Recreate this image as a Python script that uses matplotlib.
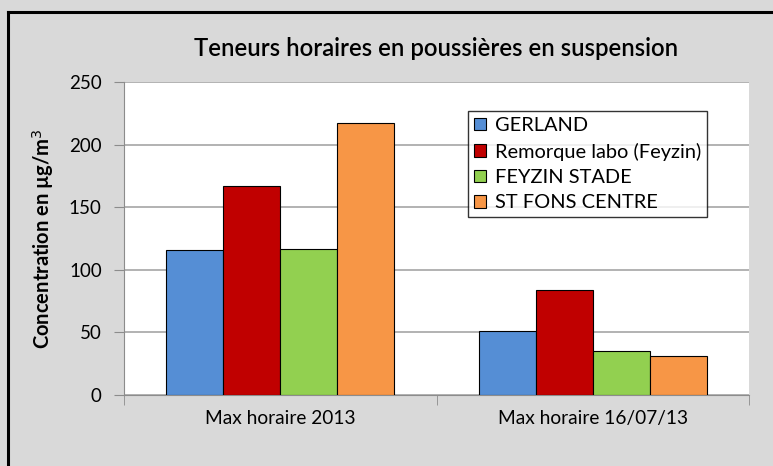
import numpy as np
import matplotlib.pyplot as plt
from matplotlib.lines import Line2D

categories = ['Max horaire 2013', 'Max horaire 16/07/13']
stations = ['GERLAND', 'Remorque labo (Feyzin)', 'FEYZIN STADE', 'ST FONS CENTRE']
values = {
    'GERLAND': [116, 51],
    'Remorque labo (Feyzin)': [167, 84],
    'FEYZIN STADE': [117, 35],
    'ST FONS CENTRE': [217, 31],
}
colors = ['#558ED5', '#C00000', '#92D050', '#F79646']
yticks = [0, 50, 100, 150, 200, 250]

plt.rcParams['font.family'] = ['Lato', 'DejaVu Sans']

fig = plt.figure(figsize=(7.73, 4.66), dpi=100, facecolor='#d9d9d9')
ax = fig.add_axes([124 / 773, 71 / 466, 625 / 773, 313 / 466])
ax.set_facecolor('white')

x = np.arange(len(categories))
w = 0.1824
for i, (name, c) in enumerate(zip(stations, colors)):
    ax.bar(x + (i - 1.5) * w, values[name], w, color=c, edgecolor='black',
           linewidth=0.8, label=name, zorder=3)

ax.set_xlim(-0.5, 1.5)
ax.set_ylim(0, 250)
ax.set_yticks(yticks)
ax.set_yticklabels([str(v) for v in yticks], fontsize=13.5)
ax.yaxis.grid(True, color='#a6a6a6', linewidth=1.2, zorder=0)

ax.set_xticks(x)
ax.set_xticklabels(categories, fontsize=13.8)
ax.tick_params(axis='x', length=0, pad=11)
ax.set_xticks([-0.5, 0.5, 1.5], minor=True)
ax.tick_params(axis='x', which='minor', length=7, color='#8c8c8c', direction='out')
ax.tick_params(axis='y', length=7, color='#8c8c8c', pad=9)

for s in ['top', 'right']:
    ax.spines[s].set_visible(False)
for s in ['left', 'bottom']:
    ax.spines[s].set_color('#8c8c8c')

ax.set_ylabel('Concentration en µg/m$^3$', fontsize=14.5, fontweight='bold', labelpad=9)
ax.set_title('Teneurs horaires en poussières en suspension', fontsize=17.2,
             fontweight='semibold', pad=19)

leg = ax.legend(loc='upper left', bbox_to_anchor=(0.5504, 0.907), fontsize=14.4,
                frameon=True, fancybox=False, edgecolor='black', handlelength=0.6,
                handleheight=0.6, handletextpad=0.45, borderpad=0.3, labelspacing=0.42,
                borderaxespad=0)
leg.get_frame().set_linewidth(1.0)

# outer chart border (top and left visible)
fig.add_artist(Line2D([8 / 773, 8 / 773], [0, 1 - 12 / 466], color='black', linewidth=2.2,
                      transform=fig.transFigure))
fig.add_artist(Line2D([8 / 773, 1], [1 - 12 / 466, 1 - 12 / 466], color='black', linewidth=2.2,
                      transform=fig.transFigure))

fig.savefig('out.png', dpi=100, facecolor=fig.get_facecolor())
